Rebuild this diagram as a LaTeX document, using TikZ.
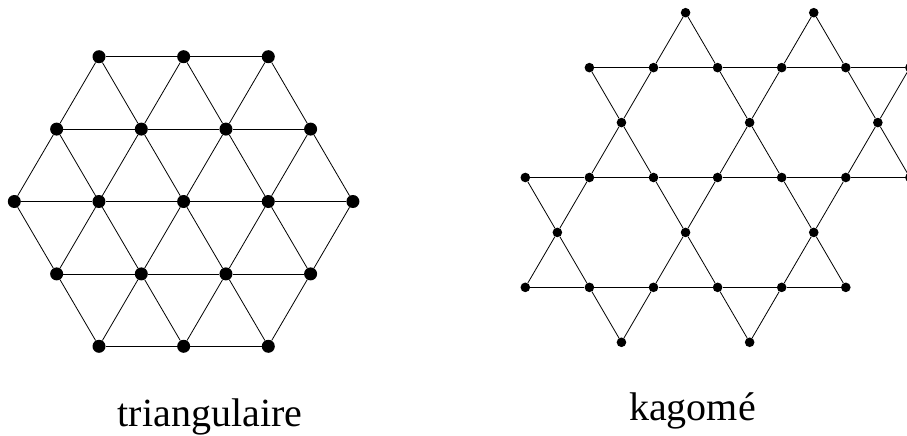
\documentclass[tikz,border=0pt]{standalone}
\usepackage{fontspec}
\setmainfont{Liberation Serif}
\begin{document}
\begin{tikzpicture}[x=1pt,y=-1pt,
  bond/.style={line width=0.8pt, draw=black},
  tdot/.style={circle, fill=black, inner sep=0pt, minimum size=13pt},
  kdot/.style={circle, fill=black, inner sep=0pt, minimum size=9.6pt},
  lab/.style={font=\fontsize{40}{48}\selectfont, anchor=base, inner sep=0pt}]
\useasboundingbox (0,0) rectangle (907,436);
\clip (0,0) rectangle (907,436);
% ---------- triangular lattice ----------
\foreach \r/\n/\xo in {1/3/99, 2/4/56.65, 3/5/14.3, 4/4/56.65, 5/3/99} {
  \foreach \c in {1,...,\n} {
    \node[tdot] (t\r\c) at ({\xo+(\c-1)*84.65}, {56.7+(\r-1)*72.4}) {};
  }
}
\foreach \r/\m in {1/2,2/3,3/4,4/3,5/2} {
  \foreach \c in {1,...,\m} {
    \pgfmathtruncatemacro{\d}{\c+1}
    \draw[bond] (t\r\c) -- (t\r\d);
  }
}
\foreach \r/\s/\n in {1/2/3, 2/3/4, 5/4/3, 4/3/4} {
  \foreach \c in {1,...,\n} {
    \pgfmathtruncatemacro{\d}{\c+1}
    \draw[bond] (t\s\c) -- (t\r\c) -- (t\s\d);
  }
}
% ---------- kagome lattice ----------
\foreach \k in {5,9} {\node[kdot] (k0x\k) at ({525.3+32.05*\k},{12.7}) {};}
\foreach \k in {2,4,6,8,10,12} {\node[kdot] (k1x\k) at ({525.3+32.05*\k},{12.7+54.93}) {};}
\foreach \k in {3,7,11} {\node[kdot] (k2x\k) at ({525.3+32.05*\k},{12.7+2*54.93}) {};}
\foreach \k in {0,2,4,6,8,10,12} {\node[kdot] (k3x\k) at ({525.3+32.05*\k},{12.7+3*54.93}) {};}
\foreach \k in {1,5,9} {\node[kdot] (k4x\k) at ({525.3+32.05*\k},{12.7+4*54.93}) {};}
\foreach \k in {0,2,4,6,8,10} {\node[kdot] (k5x\k) at ({525.3+32.05*\k},{12.7+5*54.93}) {};}
\foreach \k in {3,7} {\node[kdot] (k6x\k) at ({525.3+32.05*\k},{12.7+6*54.93}) {};}
% horizontal bonds
\foreach \k in {2,4,6,8,10} {\pgfmathtruncatemacro{\b}{\k+2}\draw[bond] (k1x\k) -- (k1x\b);}
\foreach \k in {0,2,4,6,8,10} {\pgfmathtruncatemacro{\b}{\k+2}\draw[bond] (k3x\k) -- (k3x\b);}
\foreach \k in {0,2,4,6,8} {\pgfmathtruncatemacro{\b}{\k+2}\draw[bond] (k5x\k) -- (k5x\b);}
% triangle tips
\foreach \k in {5,9} {\pgfmathtruncatemacro{\a}{\k-1}\pgfmathtruncatemacro{\b}{\k+1}
  \draw[bond] (k1x\a) -- (k0x\k) -- (k1x\b);}
\foreach \k in {3,7,11} {\pgfmathtruncatemacro{\a}{\k-1}\pgfmathtruncatemacro{\b}{\k+1}
  \draw[bond] (k1x\a) -- (k2x\k) -- (k1x\b) (k3x\a) -- (k2x\k) -- (k3x\b);}
\foreach \k in {1,5,9} {\pgfmathtruncatemacro{\a}{\k-1}\pgfmathtruncatemacro{\b}{\k+1}
  \draw[bond] (k3x\a) -- (k4x\k) -- (k3x\b) (k5x\a) -- (k4x\k) -- (k5x\b);}
\foreach \k in {3,7} {\pgfmathtruncatemacro{\a}{\k-1}\pgfmathtruncatemacro{\b}{\k+1}
  \draw[bond] (k5x\a) -- (k6x\k) -- (k5x\b);}
% ---------- labels ----------
\node[lab] (lt) at (210,426) {triangulaire};
\node[lab] (lk) at (692.5,420) {kagomé};
\end{tikzpicture}
\end{document}
